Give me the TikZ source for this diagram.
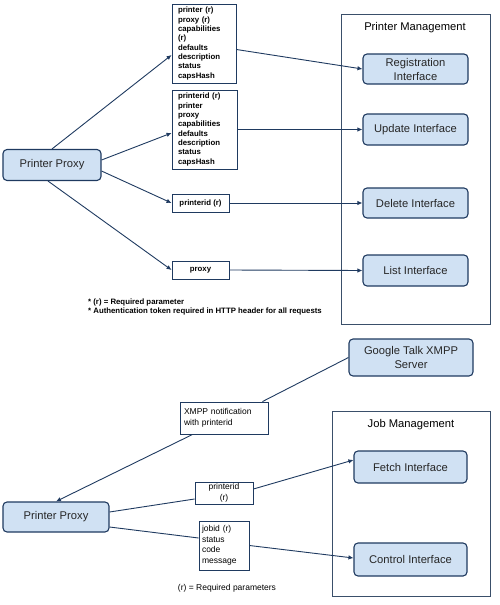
\documentclass[tikz,border=0pt]{standalone}
\usepackage{fontspec}
\setmainfont{Liberation Sans}
\usetikzlibrary{arrows.meta}
\definecolor{navy}{HTML}{1F3A60}
\definecolor{boxfill}{HTML}{D0E1F3}
\definecolor{framecol}{HTML}{3A4F6A}
\tikzset{
    iface/.style={draw=navy, fill=boxfill, line width=1.1pt, rounded corners=4pt,
        align=center, inner sep=1pt, font=\fontsize{11.2}{14}\selectfont, text=black!85},
    params/.style={draw=navy, fill=white, line width=0.9pt, align=left, inner sep=0pt,
        font=\bfseries\fontsize{7.8}{9.3}\selectfont},
    msg/.style={draw=navy, fill=white, line width=0.9pt, align=left, inner sep=0pt,
        font=\fontsize{8.5}{10.5}\selectfont},
    frame/.style={draw=framecol, line width=1pt},
    link/.style={draw=navy, line width=0.9pt},
    call/.style={link, -{Latex[length=5pt,width=4.5pt]}}
}
\begin{document}
\begin{tikzpicture}[x=1pt,y=-1pt]
    \useasboundingbox (0,0) rectangle (500,605);
    % Printer management frame
    \draw[frame] (341,14) rectangle (490,324);
    \node[font=\fontsize{11.2}{12}\selectfont] (pmtitle) at (415,28) {Printer Management};
    % Interfaces of the printer management
    \node[iface, minimum width=105pt, minimum height=30pt] (reg) at (415.5,69) {Registration\\Interface};
    \node[iface, minimum width=105pt, minimum height=31pt] (upd) at (415.5,129.5) {Update Interface};
    \node[iface, minimum width=105pt, minimum height=30pt] (del) at (415.5,203) {Delete Interface};
    \node[iface, minimum width=105pt, minimum height=31pt] (lst) at (415.5,270.5) {List Interface};
    % Printer proxy of the top part
    \node[iface, minimum width=98pt, minimum height=31pt] (proxyA) at (52,165) {Printer Proxy};
    % Parameter boxes
    \node[params, minimum width=64pt, minimum height=79pt, text width=52pt] (p1) at (204,43.5)
        {printer (r)\\proxy (r)\\capabilities\\(r)\\defaults\\description\\status\\capsHash};
    \node[params, minimum width=65pt, minimum height=79pt, text width=53pt] (p2) at (204.5,129.5)
        {printerid (r)\\printer\\proxy\\capabilities\\defaults\\description\\status\\capsHash};
    \node[params, align=center, minimum width=57pt, minimum height=18pt] (p3) at (200.5,203) {printerid (r)};
    \node[params, align=center, minimum width=57pt, minimum height=18pt] (p4) at (200.5,270) {proxy};
    % Calls from the proxy
    \draw[call] (proxyA.north) -- ([yshift=-11.5pt]p1.west);
    \draw[call] ([yshift=5pt]proxyA.east) -- ([yshift=-3.5pt]p2.west);
    \draw[call] ([yshift=-6pt]proxyA.east) -- (p3.west);
    \draw[call] ([xshift=-4pt]proxyA.south) -- (p4.west);
    \draw[call] ([yshift=-6pt]p1.east) -- (reg.west);
    \draw[call] (p2.east) -- (upd.west);
    \draw[call] (p3.east) -- (del.west);
    \draw[call] (p4.east) -- (lst.west);
    % Footnotes
    \node[anchor=west, inner sep=0pt, font=\bfseries\fontsize{7.8}{8}\selectfont] (note1) at (88,302) {* (r) = Required parameter};
    \node[anchor=west, inner sep=0pt, font=\bfseries\fontsize{7.8}{8}\selectfont] (note2) at (88,311) {* Authentication token required in HTTP header for all requests};

    % Job management frame
    \draw[frame] (332,411) rectangle (490,596);
    \node[font=\fontsize{11.2}{12}\selectfont] (jmtitle) at (411,425) {Job Management};
    \node[iface, minimum width=113pt, minimum height=32pt] (fetch) at (410.5,467) {Fetch Interface};
    \node[iface, minimum width=113pt, minimum height=33pt] (ctrl) at (410.5,559.5) {Control Interface};
    % XMPP server and proxy of the bottom part
    \node[iface, minimum width=124pt, minimum height=37pt] (gtalk) at (411,357.5) {Google Talk XMPP\\Server};
    \node[iface, minimum width=106pt, minimum height=30pt] (proxyB) at (56,517) {Printer Proxy};
    % Message boxes
    \node[msg, minimum width=88pt, minimum height=32pt, text width=80pt] (xmpp) at (224,418)
        {XMPP notification\\with printerid};
    \node[msg, align=center, minimum width=58pt, minimum height=22pt] (pid) at (224,493) {printerid\\(r)};
    \node[msg, minimum width=50pt, minimum height=49pt, text width=44pt] (job) at (224,545.5)
        {jobid (r)\\status\\code\\message};
    % Connections
    \draw[link] (gtalk.west) -- ([xshift=-6pt]xmpp.north east);
    \draw[call] ([xshift=13pt]xmpp.south west) -- (proxyB.north);
    \draw[link] ([yshift=5pt]proxyB.east) -- ([yshift=-6pt]pid.west);
    \draw[call] ([yshift=4pt]pid.east) -- ([yshift=7pt]fetch.west);
    \draw[link] ([yshift=-10pt]proxyB.east) -- ([yshift=7.5pt]job.west);
    \draw[call] (job.east) -- ([yshift=1.5pt]ctrl.west);
    \node[font=\fontsize{8.5}{10}\selectfont] (note3) at (227,588) {(r) = Required parameters};
\end{tikzpicture}
\end{document}
